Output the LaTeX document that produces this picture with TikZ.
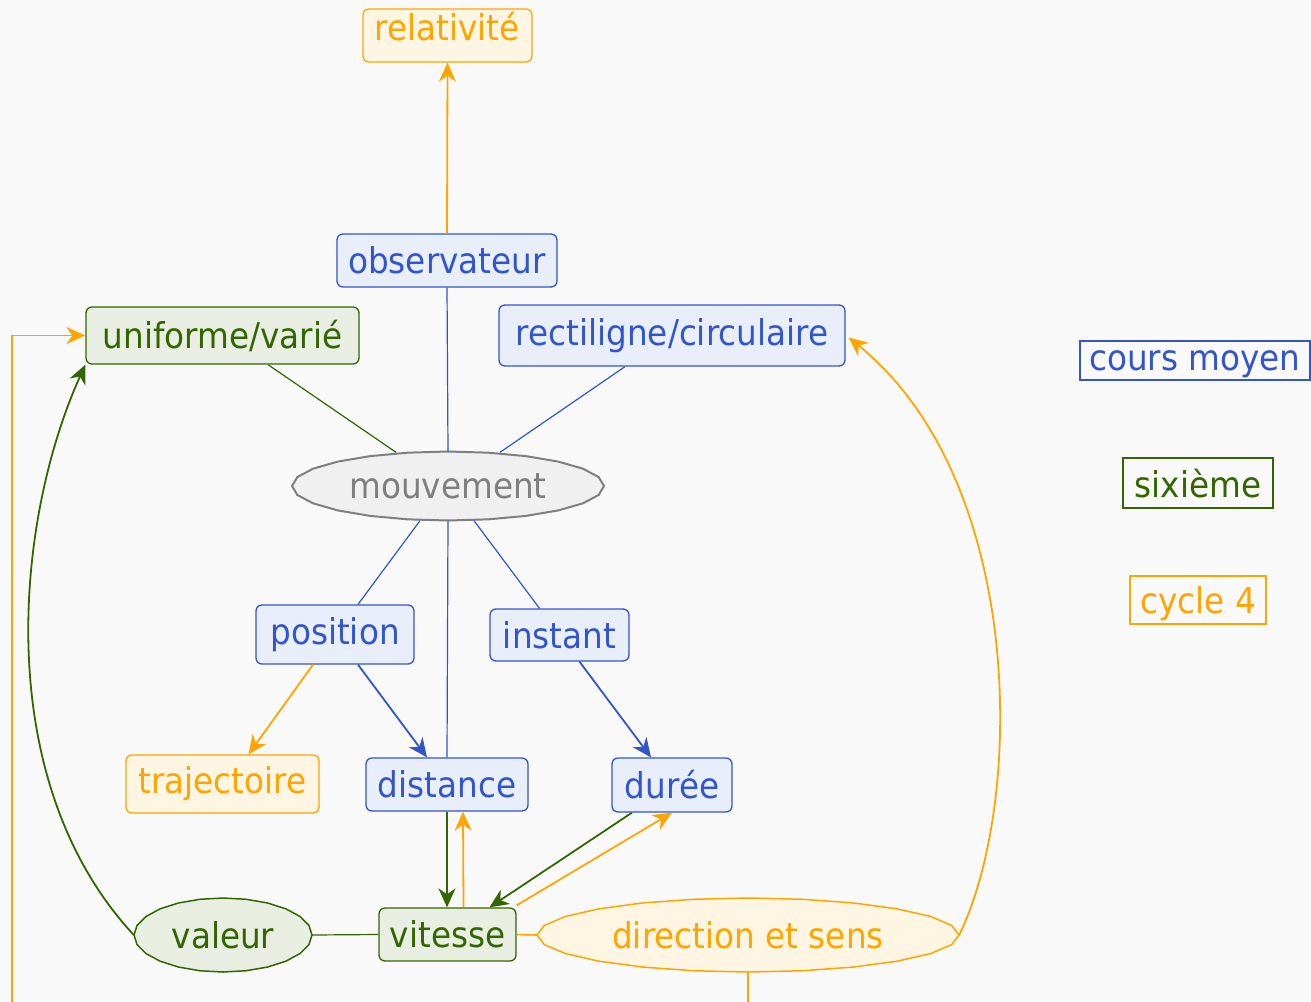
\documentclass[tikz,border=0pt]{standalone}
\usepackage{fontspec}
\setmainfont{DejaVu Sans}[FakeStretch=0.92]
\usetikzlibrary{arrows.meta,calc,shapes.geometric}
\definecolor{bgc}{HTML}{F9F9F9}
\definecolor{cmB}{HTML}{3355CC}
\definecolor{cmBf}{HTML}{E8EEFA}
\definecolor{sxG}{HTML}{336600}
\definecolor{sxGf}{HTML}{E8EEE2}
\definecolor{cyO}{HTML}{FFA500}
\definecolor{cyOf}{HTML}{FFF5E3}
\definecolor{mvG}{HTML}{7F7F7F}
\definecolor{mvGf}{HTML}{F0F0F0}
\newcommand\polyell[7]{%
  \draw[#6] plot[samples at={0,15,...,345}, variable=\t] ({#2+#4*cos(\t)},{#3+#5*sin(\t)}) -- cycle;
  \node[ellipse, inner sep=0pt, minimum width=2*#4pt, minimum height=2*#5pt, #7] (#1) at (#2,#3)}
\begin{document}
\begin{tikzpicture}[x=1pt,y=-1pt,
  font=\fontsize{35.5}{40}\selectfont,
  box/.style={rounded corners=6pt, line width=1.3pt, inner sep=0pt},
  bbox/.style={box, draw=cmB, fill=cmBf, text=cmB},
  gbox/.style={box, draw=sxG, fill=sxGf, text=sxG},
  obox/.style={box, draw=cyO, fill=cyOf, text=cyO},
  leg/.style={line width=2pt, inner sep=0pt, fill=bgc, text depth=0pt},
  tip/.style={-{Stealth[length=19pt,width=17pt,inset=6pt]}},
  bline/.style={draw=cmB, line width=1.2pt},
  gline/.style={draw=sxG, line width=1.2pt},
  oline/.style={draw=cyO, line width=1.6pt},
  barr/.style={bline, line width=1.8pt, tip},
  garr/.style={gline, line width=1.8pt, tip},
  oarr/.style={oline, line width=1.8pt, tip},
]
\fill[bgc] (0,0) rectangle (1311,1001);
\clip (0,0) rectangle (1311,1001);

% boxes
\node[obox, minimum width=169pt, minimum height=53pt] (rel) at (447.5,35.5) {};
\node[text=cyO] (reltxt) at (447,27) {relativité};
\node[bbox, minimum width=220pt, minimum height=53pt] (obs) at (447,260.5) {observateur};
\node[gbox, minimum width=273pt, minimum height=57pt] (uni) at (222.5,335.5) {uniforme/varié};
\node[bbox, minimum width=346pt, minimum height=61pt] (rect) at (672,335.5) {rectiligne/circulaire};
\polyell{mouv}{448}{486}{156}{34.5}{draw=mvG, fill=mvGf, line width=2pt}{text=mvG}{mouvement};
\node[bbox, minimum width=158pt, minimum height=59pt] (pos) at (335,634.5) {position};
\node[bbox, minimum width=139pt, minimum height=52pt] (inst) at (559.5,635) {instant};
\node[obox, minimum width=193pt, minimum height=58pt] (traj) at (222.5,784) {trajectoire};
\node[bbox, minimum width=162pt, minimum height=53pt] (dist) at (447,784.5) {distance};
\node[bbox, minimum width=120pt, minimum height=54pt] (duree) at (672,785) {durée};
\polyell{val}{223}{935}{89}{37}{draw=sxG, fill=sxGf, line width=1.5pt}{text=sxG}{valeur};
\node[gbox, minimum width=137pt, minimum height=53pt] (vit) at (447.5,934.5) {vitesse};
\polyell{dir}{748}{935}{211}{37}{draw=cyO, fill=cyOf, line width=1.5pt}{text=cyO}{direction et sens};

% legend
\node[leg, draw=cmB, text=cmB, minimum width=230pt, minimum height=39pt] (lcm) at (1195,360.5) {cours moyen};
\node[leg, draw=sxG, text=sxG, minimum width=150pt, minimum height=50pt] (lsx) at (1198,483) {sixième};
\node[leg, draw=cyO, text=cyO, minimum width=136pt, minimum height=48pt] (lcy) at (1198,600) {cycle 4};

% connectors
\draw[oarr] (obs.north) -- (rel.south);
\draw[bline] (obs.south) -- (mouv.north);
\draw[gline] ($(uni.south)+(45.5,0)$) -- ($(mouv.north)+(-52,1)$);
\draw[bline] ($(rect.south)+(-47,0)$) -- ($(mouv.north)+(52,1)$);
\draw[bline] ($(mouv.south)+(-28,0)$) -- ($(pos.north)+(23,0)$);
\draw[bline] (mouv.south) -- (dist.north);
\draw[bline] ($(mouv.south)+(26,0)$) -- ($(inst.north)+(-20,0)$);
\draw[barr] ($(pos.south)+(23,0)$) -- ($(dist.north)+(-20,0)$);
\draw[oarr] ($(pos.south)+(-22,0)$) -- ($(traj.north)+(26,0)$);
\draw[barr] ($(inst.south)+(20,0)$) -- ($(duree.north)+(-21,0)$);
\draw[garr] (dist.south) -- ($(vit.north)+(-0.5,0)$);
\draw[oarr] ($(vit.north)+(16,0)$) -- ($(dist.south)+(16,0)$);
\draw[garr] ($(duree.south)+(-40,0)$) -- ($(vit.north)+(42,0)$);
\draw[oarr] ($(vit.north east)+(0,-2)$) -- (duree.south);
\draw[gline] (val.east) -- (vit.west);
\draw[oline] (vit.east) -- (dir.west);
\draw[garr] (val.west) .. controls (-10,780) and (15,520) .. (uni.south west);
\draw[oarr] (dir.east) .. controls (1025,800) and (1025,480) .. ($(rect.east)+(3,2)$);
\coordinate (lc) at (12,1040);
\draw[oarr] (dir.south) |- (lc) |- (uni.west);
\end{tikzpicture}
\end{document}
